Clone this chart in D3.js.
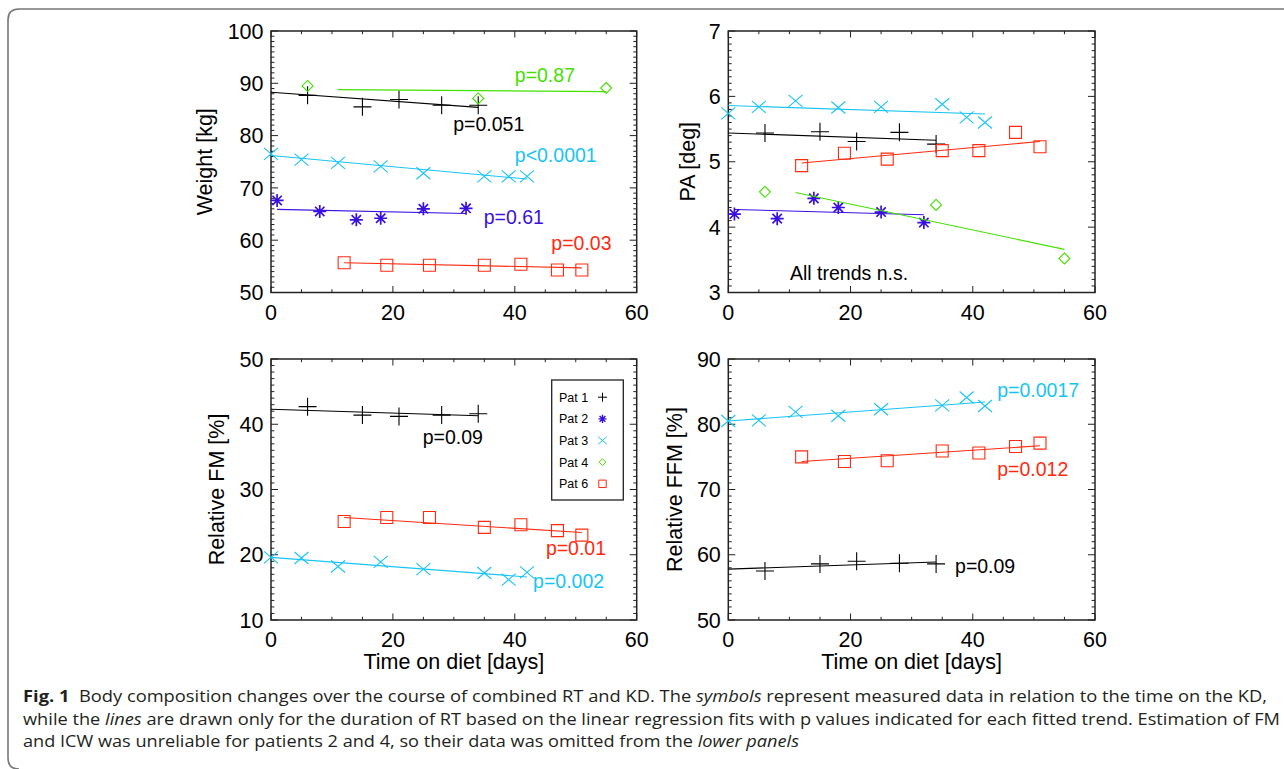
<!DOCTYPE html>
<meta charset="utf-8" />
<style>
  body { margin: 0; background: #fff; }
  svg text { font-family: "Liberation Sans", Arial, Helvetica, sans-serif; }
  svg .cap text { font-family: "Open Sans", sans-serif; fill: #231f20; }
</style>
<body>
<div id="chart"></div>
<script src="https://cdn.jsdelivr.net/npm/d3@7"></script>
<script>
// --- data ---
var patients = ["Pat 1", "Pat 2", "Pat 3", "Pat 4", "Pat 6"];
var xTicks = [0, 20, 40, 60];

var daysPat1 = [6, 15, 21, 28, 34];
var daysPat2 = [1, 8, 14, 18, 25, 32];
var daysPat3 = [0, 5, 11, 18, 25, 35, 39, 42];
var daysPat4 = [6, 34, 55];
var daysPat6 = [12, 19, 26, 35, 41, 47, 51];

// weight [kg]
var weightPat1 = [87.7, 85.5, 86.9, 85.8, 85.8];
var weightPat2 = [67.6, 65.5, 63.9, 64.2, 66.0, 66.1];
var weightPat3 = [76.5, 75.4, 74.8, 74.1, 72.8, 72.2, 72.2, 72.2];
var weightPat4 = [89.5, 87.1, 89.1];
var weightPat6 = [55.7, 55.2, 55.2, 55.2, 55.4, 54.3, 54.3];
var weightFits = [[0, 88.3, 34, 85.4], [1, 65.9, 32, 65.1], [0, 76.2, 42, 71.7], [11, 88.8, 55, 88.4], [12, 55.7, 51, 54.7]];
var weightTicks = [50, 60, 70, 80, 90, 100];

// pennation angle [deg]
var paPat1 = [5.44, 5.46, 5.31, 5.45, 5.27];
var paPat2 = [4.20, 4.13, 4.44, 4.30, 4.23, 4.07];
var paPat3 = [5.74, 5.84, 5.93, 5.83, 5.84, 5.88, 5.68, 5.60];
var paPat4 = [4.54, 4.34, 3.52];
var paPat6 = [4.94, 5.13, 5.04, 5.17, 5.17, 5.45, 5.23];
var paFits = [[0, 5.44, 34, 5.33], [1, 4.27, 32, 4.19], [0, 5.86, 42, 5.73], [11, 4.53, 55, 3.66], [12, 4.98, 51, 5.31]];
var paTicks = [3, 4, 5, 6, 7];

// relative FM [%] (no data for Pat 2, Pat 4)
var fmPat1 = [42.7, 41.4, 41.2, 41.4, 41.6];
var fmPat3 = [19.6, 19.5, 18.2, 18.9, 17.8, 17.2, 16.2, 17.3];
var fmPat6 = [25.1, 25.7, 25.7, 24.2, 24.6, 23.7, 23.0];
var fmFits = [[0, 42.3, 34, 41.3], null, [0, 19.6, 42, 16.6], null, [12, 25.7, 51, 23.4]];
var fmTicks = [10, 20, 30, 40, 50];

// relative FFM [%]
var ffmPat1 = [57.5, 58.6, 59.0, 58.7, 58.6];
var ffmPat3 = [80.5, 80.6, 81.9, 81.3, 82.3, 82.9, 84.1, 82.8];
var ffmPat6 = [75.0, 74.3, 74.4, 75.9, 75.6, 76.6, 77.1];
var ffmFits = [[0, 57.8, 34, 58.9], null, [0, 80.5, 42, 83.4], null, [12, 74.3, 51, 76.7]];
var ffmTicks = [50, 60, 70, 80, 90];

var weightPvals = ["p=0.051", "p=0.61", "p<0.0001", "p=0.87", "p=0.03"];
var fmPvals = ["p=0.09", null, "p=0.002", null, "p=0.01"];
var ffmPvals = ["p=0.09", null, "p=0.0017", null, "p=0.012"];

// --- styles ---
var colors = ["#000000", "#3a10e0", "#18c4f6", "#44e000", "#ff2a10"];
var shapes = ["plus", "asterisk", "cross", "diamond", "square"];

function symbolPath(shape, s) {
  if (shape === "plus") return "M" + (-9 * s) + ",0H" + (9 * s) + "M0," + (-9 * s) + "V" + (9 * s);
  if (shape === "asterisk") {
    var r = 6.5 * s, q = r * 0.72;
    return "M" + -r + ",0H" + r + "M0," + -r + "V" + r +
      "M" + -q + "," + -q + "L" + q + "," + q + "M" + -q + "," + q + "L" + q + "," + -q;
  }
  if (shape === "cross") return "M" + (-7 * s) + "," + (-6 * s) + "L" + (7 * s) + "," + (6 * s) +
    "M" + (-7 * s) + "," + (6 * s) + "L" + (7 * s) + "," + (-6 * s);
  if (shape === "diamond") return "M0," + (-5.5 * s) + "L" + (5.5 * s) + ",0L0," + (5.5 * s) + "L" + (-5.5 * s) + ",0Z";
  return "M" + (-6 * s) + "," + (-6 * s) + "H" + (6 * s) + "V" + (6 * s) + "H" + (-6 * s) + "Z";
}

var svg = d3.select("#chart").append("svg")
  .attr("width", 1284).attr("height", 769);

// figure frame with rounded left corners
svg.append("path")
  .attr("d", "M1284,9H19Q8,9 8,20V758Q8,769 19,769")
  .attr("fill", "none").attr("stroke", "#777").attr("stroke-width", 1.6);

var panels = [
  { l: 271, r: 636.7, t: 31, b: 292.5, dom: [50, 100], ticks: weightTicks, minor: 1, title: "Weight [kg]", tx: 212,
    series: [weightPat1, weightPat2, weightPat3, weightPat4, weightPat6], fits: weightFits,
    labels: weightPvals, labelPos: [[29.9, 80.9], [34.9, 63.1], [40, 75.0], [40, 90.3], [46, 58.1]] },
  { l: 728.3, r: 1095, t: 31, b: 292.5, dom: [3, 7], ticks: paTicks, minor: 0.1, title: "PA [deg]", tx: 695,
    series: [paPat1, paPat2, paPat3, paPat4, paPat6], fits: paFits,
    labels: [], labelPos: [] },
  { l: 271, r: 636.7, t: 359, b: 620, dom: [10, 50], ticks: fmTicks, minor: 1, title: "Relative FM [%]", tx: 224,
    series: [fmPat1, null, fmPat3, null, fmPat6], fits: fmFits, xtitle: true, legend: true,
    labels: fmPvals, labelPos: [[24.9, 37.0], null, [43.0, 14.9], null, [45.1, 20.0]] },
  { l: 728.3, r: 1095, t: 359, b: 620, dom: [50, 90], ticks: ffmTicks, minor: 1, title: "Relative FFM [%]", tx: 682,
    series: [ffmPat1, null, ffmPat3, null, ffmPat6], fits: ffmFits, xtitle: true,
    labels: ffmPvals, labelPos: [[37.1, 57.2], null, [44.0, 84.2], null, [44.0, 72.0]] }
];
var allDays = [daysPat1, daysPat2, daysPat3, daysPat4, daysPat6];

panels.forEach(function (p) {
  var x = d3.scaleLinear().domain([0, 60]).range([p.l, p.r]);
  var y = d3.scaleLinear().domain(p.dom).range([p.b, p.t]);
  var g = svg.append("g");

  // minor / major ticks on all four sides, pointing inward
  var xMinor = d3.range(0, 60.01, 5);
  var yMinor = d3.range(p.dom[0], p.dom[1] + 1e-6, p.minor);
  function isMajX(v) { return Math.abs(v % 20) < 1e-6; }
  function isMajY(v) { return p.ticks.some(function (t) { return Math.abs(t - v) < 1e-6; }); }
  xMinor.forEach(function (v) {
    var len = isMajX(v) ? 6.5 : 3.2;
    g.append("line").attr("x1", x(v)).attr("x2", x(v)).attr("y1", p.b).attr("y2", p.b - len);
    g.append("line").attr("x1", x(v)).attr("x2", x(v)).attr("y1", p.t).attr("y2", p.t + len);
  });
  yMinor.forEach(function (v) {
    var len = isMajY(v) ? 7 : 3.4;
    g.append("line").attr("x1", p.l).attr("x2", p.l + len).attr("y1", y(v)).attr("y2", y(v));
    g.append("line").attr("x1", p.r).attr("x2", p.r - len).attr("y1", y(v)).attr("y2", y(v));
  });
  g.selectAll("line").attr("stroke", "#222").attr("stroke-width", 1);

  g.append("rect").attr("x", p.l).attr("y", p.t)
    .attr("width", p.r - p.l).attr("height", p.b - p.t)
    .attr("fill", "none").attr("stroke", "#222").attr("stroke-width", 1.5);

  // tick labels
  g.selectAll(".xl").data(xTicks).enter().append("text")
    .attr("x", function (d) { return x(d); }).attr("y", p.b + 27)
    .attr("text-anchor", "middle").attr("font-size", 21.5).text(function (d) { return d; });
  g.selectAll(".yl").data(p.ticks).enter().append("text")
    .attr("x", p.l - 7.5).attr("y", function (d) { return y(d); })
    .attr("dy", "0.36em").attr("text-anchor", "end").attr("font-size", 21.5).text(function (d) { return d; });

  g.append("text").attr("transform", "translate(" + p.tx + "," + ((p.t + p.b) / 2) + ") rotate(-90)")
    .attr("text-anchor", "middle").attr("font-size", 21.5).text(p.title);
  if (p.xtitle) {
    g.append("text").attr("x", (p.l + p.r) / 2).attr("y", p.b + 49)
      .attr("text-anchor", "middle").attr("font-size", 21.5).text("Time on diet [days]");
  }

  // fits and symbols
  p.series.forEach(function (vals, i) {
    if (!vals) return;
    var f = p.fits[i];
    g.append("line").attr("x1", x(f[0])).attr("y1", y(f[1])).attr("x2", x(f[2])).attr("y2", y(f[3]))
      .attr("stroke", colors[i]).attr("stroke-width", 1.1);
    g.selectAll(".s" + i).data(vals).enter().append("path")
      .attr("transform", function (v, j) { return "translate(" + x(allDays[i][j]) + "," + y(v) + ")"; })
      .attr("d", symbolPath(shapes[i], 1))
      .attr("fill", "none").attr("stroke", colors[i])
      .attr("stroke-width", shapes[i] === "asterisk" ? 1.7 : 1.1);
  });

  p.labels.forEach(function (t, i) {
    if (!t) return;
    g.append("text").attr("x", x(p.labelPos[i][0])).attr("y", y(p.labelPos[i][1]))
      .attr("font-size", 19.5).attr("fill", colors[i]).text(t);
  });

  if (p.title === "PA [deg]") {
    g.append("text").attr("x", x(10.1)).attr("y", y(3.19)).attr("font-size", 19.5).text("All trends n.s.");
  }

  if (p.legend) {
    var lg = g.append("g");
    lg.append("rect").attr("x", 551.7).attr("y", 380).attr("width", 71.6).attr("height", 120)
      .attr("fill", "#fff").attr("stroke", "#222").attr("stroke-width", 1.3);
    patients.forEach(function (name, i) {
      var yy = 401.7 + i * 21.65;
      lg.append("text").attr("x", 559).attr("y", yy).attr("font-size", 12.5).text(name);
      lg.append("path").attr("transform", "translate(602.5," + (yy - 4.5) + ")")
        .attr("d", symbolPath(shapes[i], shapes[i] === "plus" ? 0.5 : 0.62))
        .attr("fill", "none").attr("stroke", colors[i]).attr("stroke-width", shapes[i] === "asterisk" ? 1.4 : 1);
    });
  }
});

// caption
var cap = svg.append("g").attr("class", "cap").attr("font-size", 15.5);
var l1 = cap.append("text").attr("x", 23).attr("y", 702).attr("textLength", 1244).attr("lengthAdjust", "spacingAndGlyphs");
l1.append("tspan").attr("font-weight", "bold").text("Fig. 1");
l1.append("tspan").text("\u00a0\u00a0Body composition changes over the course of combined RT and KD. The ");
l1.append("tspan").attr("font-style", "italic").text("symbols");
l1.append("tspan").text(" represent measured data in relation to the time on the KD,");
var l2 = cap.append("text").attr("x", 23).attr("y", 724.5).attr("textLength", 1257).attr("lengthAdjust", "spacingAndGlyphs");
l2.append("tspan").text("while the ");
l2.append("tspan").attr("font-style", "italic").text("lines");
l2.append("tspan").text(" are drawn only for the duration of RT based on the linear regression fits with p values indicated for each fitted trend. Estimation of FM");
var l3 = cap.append("text").attr("x", 23).attr("y", 747).attr("textLength", 776).attr("lengthAdjust", "spacingAndGlyphs");
l3.append("tspan").text("and ICW was unreliable for patients 2 and 4, so their data was omitted from the ");
l3.append("tspan").attr("font-style", "italic").text("lower panels");
</script>
</body>
